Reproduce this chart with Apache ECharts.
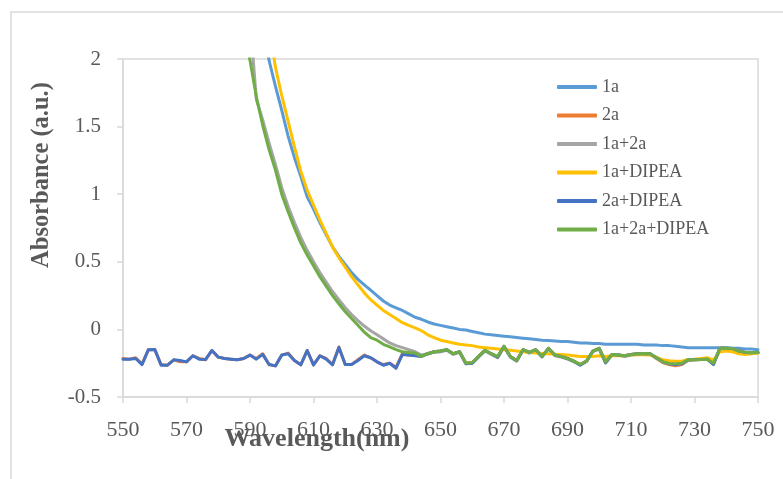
<!DOCTYPE html>
<html>
<head>
<meta charset="utf-8">
<script src="https://cdn.jsdelivr.net/npm/echarts@6/dist/echarts.min.js"></script>
<style>
html,body{margin:0;padding:0;background:#fff;}
#chart{width:783px;height:479px;}
</style>
</head>
<body>
<div id="chart"></div>
<script>
var wavelengths = [
550,552,554,556,558, 560,562,564,566,568, 570,572,574,576,578, 580,582,584,586,588,
590,592,594,596,598, 600,602,604,606,608, 610,612,614,616,618, 620,622,624,626,628,
630,632,634,636,638, 640,642,644,646,648, 650,652,654,656,658, 660,662,664,666,668,
670,672,674,676,678, 680,682,684,686,688, 690,692,694,696,698, 700,702,704,706,708,
710,712,714,716,718, 720,722,724,726,728, 730,732,734,736,738, 740,742,744,746,748,
750];

var seriesNames = ['1a','2a','1a+2a','1a+DIPEA','2a+DIPEA','1a+2a+DIPEA'];
var yTicks = [-0.5, 0, 0.5, 1, 1.5, 2];

var s1a = [
null,null,null,null,null, null,null,null,null,null, null,null,null,null,null, null,null,null,null,null,
null,null,2.3,1.99,1.8, 1.62,1.43,1.27,1.13,0.98, 0.89,0.79,0.7,0.61,0.54, 0.48,0.42,0.37,0.33,0.29,
0.25,0.21,0.18,0.16,0.14, 0.115,0.09,0.075,0.055,0.04, 0.03,0.02,0.01,0.0,-0.005, -0.015,-0.025,-0.035,-0.04,-0.045,
-0.05,-0.055,-0.06,-0.065,-0.07, -0.075,-0.08,-0.083,-0.086,-0.09, -0.09,-0.095,-0.1,-0.1,-0.105, -0.105,-0.11,-0.11,-0.11,-0.11,
-0.11,-0.11,-0.115,-0.115,-0.115, -0.12,-0.12,-0.125,-0.13,-0.135, -0.135,-0.135,-0.135,-0.135,-0.135, -0.135,-0.14,-0.14,-0.145,-0.145,
-0.15];

var s2a = [
-0.215,-0.22,-0.21,-0.255,-0.15, -0.148,-0.26,-0.265,-0.225,-0.24, -0.24,-0.195,-0.215,-0.225,-0.156, -0.205,-0.215,-0.22,-0.225,-0.215,
-0.19,-0.215,-0.18,-0.26,-0.27, -0.19,-0.175,-0.23,-0.262,-0.156, -0.262,-0.195,-0.215,-0.26,-0.13, -0.26,-0.26,-0.225,-0.19,-0.21,
-0.24,-0.26,-0.25,-0.28,-0.18, -0.19,-0.19,-0.2,-0.18,-0.165, -0.16,-0.15,-0.18,-0.165,-0.25, -0.245,-0.2,-0.155,-0.18,-0.205,
-0.125,-0.2,-0.23,-0.15,-0.17, -0.15,-0.2,-0.14,-0.19,-0.2, -0.215,-0.235,-0.26,-0.235,-0.16, -0.14,-0.245,-0.185,-0.19,-0.195,
-0.185,-0.18,-0.178,-0.18,-0.215, -0.245,-0.26,-0.27,-0.26,-0.23, -0.225,-0.222,-0.22,-0.255,-0.14, -0.14,-0.145,-0.16,-0.17,-0.17,
-0.17];

var s1a2a = [
null,null,null,null,null, null,null,null,null,null, null,null,null,null,null, null,null,null,null,null,
2.3,1.7,1.55,1.38,1.22, 1.05,0.91,0.79,0.68,0.585, 0.5,0.42,0.35,0.28,0.22, 0.16,0.11,0.065,0.025,-0.01,
-0.04,-0.07,-0.1,-0.12,-0.135, -0.15,-0.165,-0.19,-0.18,-0.17, -0.165,-0.155,-0.185,-0.17,-0.25, -0.25,-0.205,-0.16,-0.185,-0.21,
-0.13,-0.205,-0.235,-0.155,-0.175, -0.155,-0.205,-0.145,-0.195,-0.205, -0.22,-0.24,-0.26,-0.235,-0.165, -0.145,-0.25,-0.19,-0.19,-0.2,
-0.19,-0.182,-0.18,-0.182,-0.212, -0.24,-0.255,-0.258,-0.252,-0.225, -0.222,-0.22,-0.218,-0.25,-0.145, -0.142,-0.145,-0.162,-0.172,-0.172,
-0.172];

var s1aDIPEA = [
null,null,null,null,null, null,null,null,null,null, null,null,null,null,null, null,null,null,null,null,
null,null,null,2.25,1.94, 1.73,1.54,1.35,1.17,1.03, 0.92,0.81,0.71,0.61,0.53, 0.46,0.39,0.33,0.27,0.22,
0.18,0.14,0.11,0.08,0.05, 0.03,0.012,-0.01,-0.04,-0.06, -0.08,-0.09,-0.1,-0.11,-0.115, -0.12,-0.13,-0.135,-0.14,-0.145,
-0.15,-0.155,-0.16,-0.165,-0.17, -0.175,-0.178,-0.18,-0.183,-0.186, -0.19,-0.195,-0.2,-0.2,-0.2, -0.195,-0.2,-0.195,-0.195,-0.195,
-0.19,-0.188,-0.188,-0.19,-0.205, -0.225,-0.232,-0.235,-0.235,-0.222, -0.22,-0.215,-0.21,-0.225,-0.165, -0.16,-0.165,-0.18,-0.185,-0.18,
-0.175];

var s2aDIPEA = [
-0.22,-0.22,-0.215,-0.26,-0.15, -0.148,-0.265,-0.265,-0.225,-0.23, -0.24,-0.195,-0.22,-0.222,-0.156, -0.205,-0.215,-0.22,-0.225,-0.215,
-0.19,-0.22,-0.185,-0.26,-0.27, -0.19,-0.18,-0.23,-0.262,-0.156, -0.262,-0.195,-0.22,-0.262,-0.134, -0.26,-0.26,-0.23,-0.195,-0.21,
-0.24,-0.265,-0.25,-0.287,-0.185, -0.19,-0.195,-0.2,-0.18,-0.165, -0.16,-0.15,-0.18,-0.165,-0.255, -0.25,-0.2,-0.155,-0.18,-0.205,
-0.125,-0.2,-0.232,-0.15,-0.17, -0.15,-0.2,-0.14,-0.19,-0.2, -0.215,-0.235,-0.265,-0.235,-0.16, -0.14,-0.245,-0.185,-0.19,-0.195,
-0.185,-0.18,-0.178,-0.18,-0.21, -0.24,-0.255,-0.26,-0.255,-0.225, -0.225,-0.222,-0.22,-0.26,-0.14, -0.14,-0.142,-0.16,-0.17,-0.172,
-0.17];

var s1a2aDIPEA = [
null,null,null,null,null, null,null,null,null,null, null,null,null,null,null, null,null,null,null,2.2,
1.99,1.72,1.51,1.33,1.18, 1.0,0.87,0.75,0.64,0.55, 0.47,0.39,0.32,0.25,0.19, 0.13,0.08,0.03,-0.02,-0.06,
-0.08,-0.11,-0.13,-0.15,-0.165, -0.17,-0.175,-0.2,-0.18,-0.165, -0.16,-0.15,-0.18,-0.165,-0.25, -0.245,-0.2,-0.155,-0.18,-0.2,
-0.125,-0.2,-0.23,-0.15,-0.17, -0.15,-0.2,-0.14,-0.19,-0.2, -0.215,-0.235,-0.258,-0.235,-0.16, -0.14,-0.24,-0.185,-0.19,-0.195,
-0.185,-0.18,-0.178,-0.18,-0.21, -0.24,-0.252,-0.255,-0.25,-0.225, -0.225,-0.222,-0.22,-0.25,-0.14, -0.14,-0.142,-0.16,-0.17,-0.17,
-0.17];

var colors = ['#5B9BD5','#ED7D31','#A5A5A5','#FFC000','#4472C4','#70AD47'];
var allValues = [s1a, s2a, s1a2a, s1aDIPEA, s2aDIPEA, s1a2aDIPEA];

function pairs(vals){
  var out = [];
  for (var i = 0; i < wavelengths.length; i++) {
    if (vals[i] !== null) out.push([wavelengths[i], vals[i]]);
  }
  return out;
}

var font = 'Liberation Serif, Times New Roman, serif';
var chart = echarts.init(document.getElementById('chart'), null, {renderer:'canvas'});
var series = seriesNames.map(function(n, k){
  return {
    name: n, type: 'line', data: pairs(allValues[k]),
    showSymbol: false, symbol: 'none', clip: true,
    lineStyle: {width: 3, color: colors[k], join: 'round', cap: 'round'},
    itemStyle: {color: colors[k]},
    emphasis: {disabled: true}, silent: true, animation: false
  };
});

chart.setOption({
  animation: false,
  backgroundColor: '#ffffff',
  color: colors,
  grid: {left: 123, right: 25, top: 59, bottom: 82, show: true, borderColor: '#D9D9D9', borderWidth: 1.5, containLabel: false},
  legend: {
    orient: 'vertical', left: 552, top: 72,
    itemWidth: 40, itemHeight: 4, itemGap: 8.5, icon: 'roundRect',
    textStyle: {fontFamily: font, fontSize: 18, color: '#595959', lineHeight: 20},
    data: seriesNames, selectedMode: false
  },
  xAxis: {
    type: 'value', min: 550, max: 750, interval: 20,
    axisLine: {show: true, onZero: false, lineStyle: {color: '#D9D9D9', width: 1.5}},
    axisTick: {show: true, length: 6, inside: false, lineStyle: {color: '#D9D9D9', width: 1.5}},
    splitLine: {show: false},
    axisLabel: {fontFamily: font, fontSize: 22, color: '#595959', margin: 22}
  },
  yAxis: {
    type: 'value', min: yTicks[0], max: yTicks[yTicks.length-1], interval: 0.5,
    axisLine: {show: true, lineStyle: {color: '#D9D9D9', width: 1.5}},
    axisTick: {show: true, length: 6, inside: false, lineStyle: {color: '#D9D9D9', width: 1.5}},
    splitLine: {show: false},
    axisLabel: {fontFamily: font, fontSize: 21, color: '#595959', margin: 22}
  },
  graphic: [
    {type: 'rect', shape: {x: 11, y: 12, width: 800, height: 500}, style: {fill: 'none', stroke: '#D9D9D9', lineWidth: 1.5}, z: -10, silent: true},
    {type: 'text', x: 42, y: 175, rotation: Math.PI/2,
     style: {text: 'Absorbance (a.u.)', fontFamily: font, fontSize: 24.5, fontWeight: 'bold', fill: '#595959', align: 'center', verticalAlign: 'middle'}, z: 100},
    {type: 'text', x: 317, y: 439,
     style: {text: 'Wavelength(nm)', fontFamily: font, fontSize: 26, fontWeight: 'bold', fill: '#595959', align: 'center', verticalAlign: 'middle'}, z: 100}
  ],
  series: series
});
</script>
</body>
</html>
